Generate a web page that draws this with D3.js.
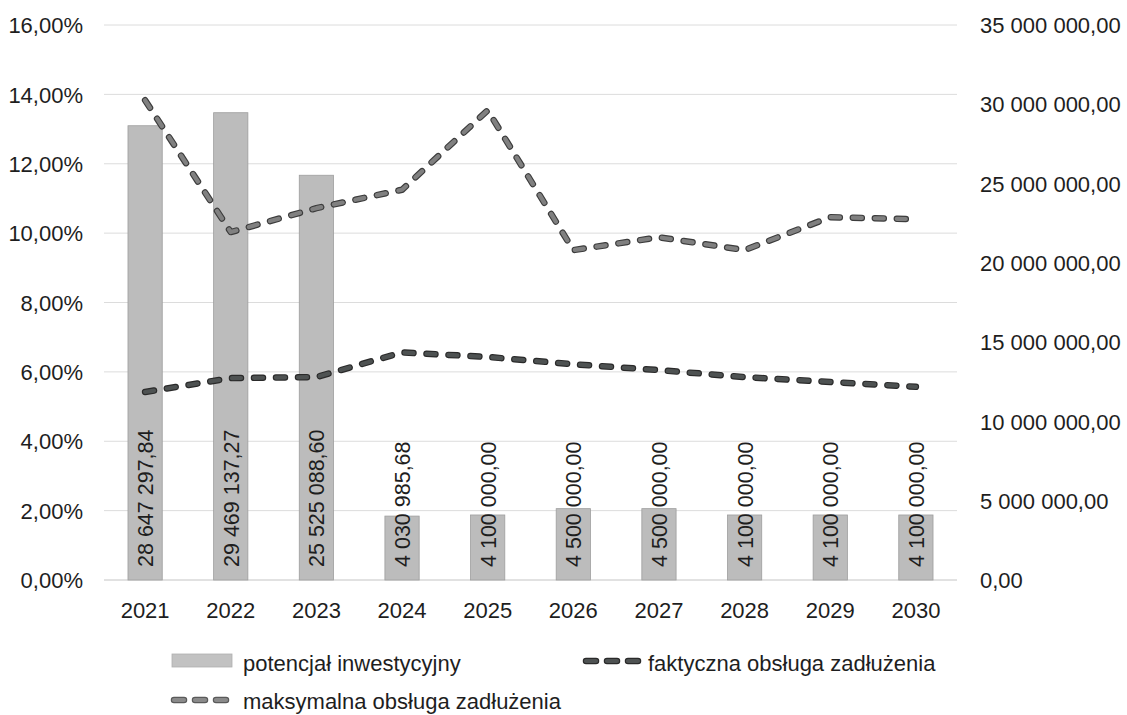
<!DOCTYPE html>
<html lang="pl">
<head>
<meta charset="UTF-8"/>
<title>Potencjał inwestycyjny</title>
<script src="https://d3js.org/d3.v7.min.js"></script>
<style>
    body { margin: 0; background: #fff; font-family: "Liberation Sans", Arial, sans-serif; }
</style>
</head>
<body>
<div id="wykres"></div>
<script>
// dane
const lata = ["2021", "2022", "2023", "2024", "2025", "2026", "2027", "2028", "2029", "2030"];
const potencjal = [28647297.84, 29469137.27, 25525088.60, 4030985.68, 4100000, 4500000, 4500000, 4100000, 4100000, 4100000];
const faktyczna = [5.42, 5.82, 5.85, 6.56, 6.43, 6.22, 6.05, 5.85, 5.71, 5.57];
const maksymalna = [13.83, 10.03, 10.72, 11.25, 13.54, 9.51, 9.88, 9.51, 10.46, 10.40];
const tickiLewe = [0, 2, 4, 6, 8, 10, 12, 14, 16];
const tickiPrawe = [0, 5e6, 10e6, 15e6, 20e6, 25e6, 30e6, 35e6];

const pl = d3.formatLocale({decimal: ",", thousands: " ", grouping: [3], currency: ["", " zł"]});
const fmtKwota = pl.format(",.2f");
const fmtProc = v => pl.format(".2f")(v) + "%";

const W = 1127, H = 715;
const margin = {top: 25, right: 170, bottom: 135, left: 104};
const width = W - margin.left - margin.right,
      height = H - margin.top - margin.bottom;
const FS = "22px";

const svg = d3.select("#wykres").append("svg")
    .attr("width", W).attr("height", H)
    .style("font-family", "'Liberation Sans', Arial, sans-serif");
const g = svg.append("g").attr("transform", `translate(${margin.left},${margin.top})`);

const x = d3.scaleBand().domain(lata).range([0, width]).paddingInner(0.6).paddingOuter(0.28);
const yL = d3.scaleLinear().domain([0, 16]).range([height, 0]);
const yR = d3.scaleLinear().domain([0, 35e6]).range([height, 0]);

// siatka
g.append("g").selectAll("line").data(tickiLewe).join("line")
    .attr("x1", 0).attr("x2", width)
    .attr("y1", d => yL(d)).attr("y2", d => yL(d))
    .attr("stroke", d => d === 0 ? "#c4c4c4" : "#dcdcdc")
    .attr("stroke-width", 1);

// osie
const osL = g.append("g").call(d3.axisLeft(yL).tickValues(tickiLewe).tickFormat(fmtProc).tickSize(0).tickPadding(21));
const osR = g.append("g").attr("transform", `translate(${width},0)`)
    .call(d3.axisRight(yR).tickValues(tickiPrawe).tickFormat(fmtKwota).tickSize(0).tickPadding(23));
const osX = g.append("g").attr("transform", `translate(0,${height})`)
    .call(d3.axisBottom(x).tickSize(0));
[osL, osR, osX].forEach(o => {
    o.select(".domain").remove();
    o.selectAll("text").style("font-size", FS).attr("fill", "#1e1e1e");
});
osL.selectAll("text").attr("dy", "0.35em");
osR.selectAll("text").attr("dy", "0.35em");
osX.selectAll("text").attr("y", 38).attr("dy", 0);

// słupki
g.append("g").selectAll("rect").data(potencjal).join("rect")
    .attr("x", (d, i) => x(lata[i]))
    .attr("y", d => yR(d))
    .attr("width", x.bandwidth())
    .attr("height", d => height - yR(d))
    .attr("fill", "#bcbcbc")
    .attr("stroke", "#9e9e9e")
    .attr("stroke-width", 0.8);

// etykiety słupków
g.append("g").selectAll("text").data(potencjal).join("text")
    .attr("transform", (d, i) => `translate(${x(lata[i]) + x.bandwidth() / 2 + 8},${height - 13}) rotate(-90)`)
    .style("font-size", "21.5px")
    .attr("fill", "#1e1e1e")
    .text(d => fmtKwota(d));

// linie przerywane z ciemniejszym obrysem
const linia = d3.line().x((d, i) => x(lata[i]) + x.bandwidth() / 2).y(d => yL(d));
const kreski = "9 13";
function rysujLinie(dane, kolor, obrys) {
    g.append("path").datum(dane).attr("d", linia)
        .attr("fill", "none").attr("stroke", obrys).attr("stroke-width", 6.5)
        .attr("stroke-dasharray", kreski).attr("stroke-linecap", "round").attr("stroke-linejoin", "round");
    g.append("path").datum(dane).attr("d", linia)
        .attr("fill", "none").attr("stroke", kolor).attr("stroke-width", 4.2)
        .attr("stroke-dasharray", kreski).attr("stroke-linecap", "round").attr("stroke-linejoin", "round");
}
rysujLinie(maksymalna, "#808080", "#3c3c3c");
rysujLinie(faktyczna, "#4e5252", "#2a2a2a");

// legenda
const leg = svg.append("g").style("font-size", FS);
leg.append("rect").attr("x", 172).attr("y", 654).attr("width", 60).attr("height", 13)
    .attr("fill", "#c2c2c2").attr("stroke", "#b0b0b0").attr("stroke-width", 0.8);
leg.append("text").attr("x", 243).attr("y", 671).attr("fill", "#1e1e1e").text("potencjał inwestycyjny");

function probkaLinii(x0, y0, kolor, obrys) {
    [[obrys, 6.5], [kolor, 4.2]].forEach(([c, w]) => {
        leg.append("line").attr("x1", x0 + 4).attr("x2", x0 + 56).attr("y1", y0).attr("y2", y0)
            .attr("stroke", c).attr("stroke-width", w)
            .attr("stroke-dasharray", "10 11").attr("stroke-linecap", "round");
    });
}
probkaLinii(582, 661, "#4e5252", "#2a2a2a");
leg.append("text").attr("x", 648).attr("y", 671).attr("fill", "#1e1e1e").text("faktyczna obsługa zadłużenia");
probkaLinii(170, 700, "#8a8a8a", "#5a5a5a");
leg.append("text").attr("x", 243).attr("y", 709).attr("fill", "#1e1e1e").text("maksymalna obsługa zadłużenia");
</script>
</body>
</html>
